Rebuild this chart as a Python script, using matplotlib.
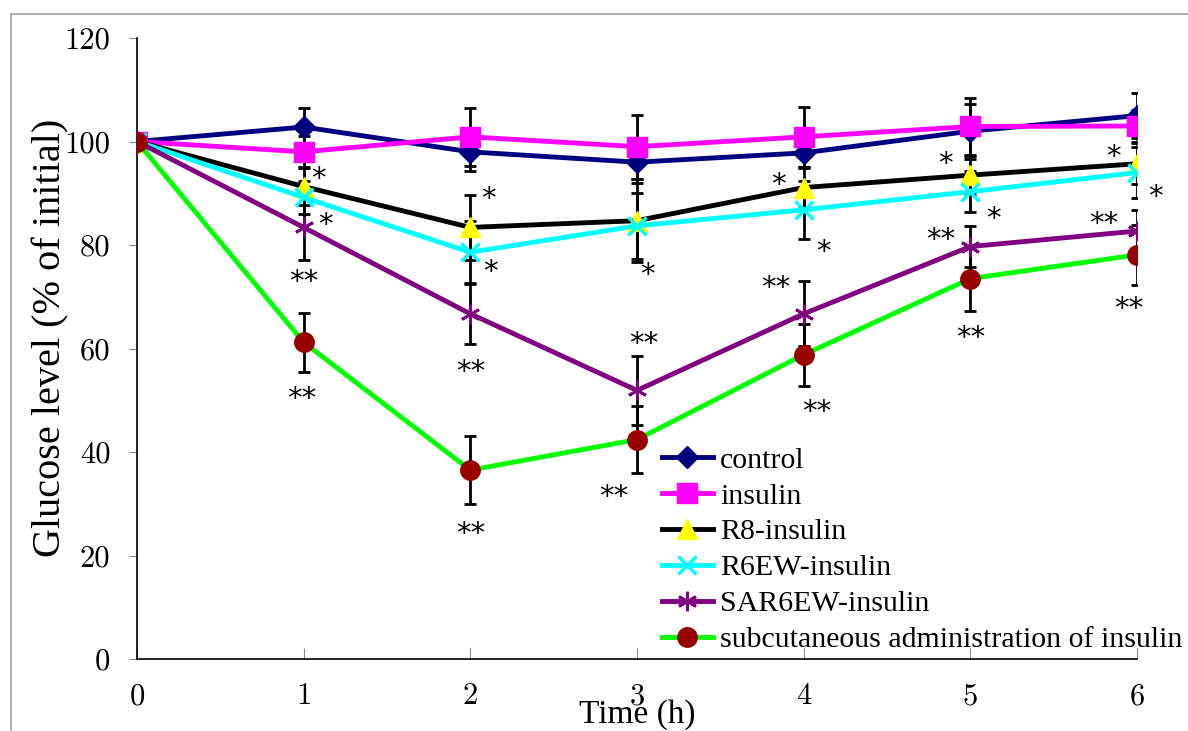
import numpy as np
import matplotlib.pyplot as plt
import matplotlib.patches as mpatches

plt.rcParams['font.family'] = ['Liberation Serif', 'DejaVu Serif']

# Data ------------------------------------------------------------------------
time_h = [0, 1, 2, 3, 4, 5, 6]

control = [100, 102.8, 98.0, 96.0, 97.8, 102.0, 105.0]
control_err = [0, 3.6, 3.7, 4.0, 3.0, 5.3, 4.4]

insulin = [100, 98.0, 100.9, 99.0, 100.9, 102.9, 103.0]
insulin_err = [0, 3.0, 5.6, 6.2, 5.8, 5.6, 3.0]

r8 = [100, 91.3, 83.4, 84.7, 91.1, 93.5, 95.7]
r8_err = [0, 3.6, 6.3, 8.0, 4.0, 3.7, 4.0]

r6ew = [100, 89.2, 78.6, 83.7, 86.8, 90.3, 94.0]
r6ew_err = [0, 3.2, 6.0, 6.4, 5.6, 4.0, 5.0]

sar6ew = [100, 83.4, 66.7, 51.9, 66.7, 79.7, 82.7]
sar6ew_err = [0, 6.3, 5.8, 6.7, 6.3, 4.0, 4.0]

subq = [100, 61.2, 36.5, 42.4, 58.8, 73.5, 78.1]
subq_err = [0, 5.7, 6.5, 6.5, 6.0, 6.2, 5.8]

series_names = ['control', 'insulin', 'R8-insulin', 'R6EW-insulin',
                'SAR6EW-insulin', 'subcutaneous administration of insulin']

# significance marks (x, y, text)
marks = [
    (1.09, 92.7, '*'), (1.13, 83.9, '*'), (1.00, 72.8, '**'), (0.99, 50.2, '**'),
    (2.11, 88.9, '*'), (2.12, 74.8, '*'), (2.00, 55.5, '**'), (2.00, 24.1, '**'),
    (3.06, 74.2, '*'), (3.04, 60.9, '**'), (2.86, 31.4, '**'),
    (3.85, 91.6, '*'), (4.12, 78.6, '*'), (3.83, 71.7, '**'), (4.08, 47.8, '**'),
    (4.85, 95.6, '*'), (5.14, 85.0, '*'), (4.82, 81.0, '**'), (5.00, 62.1, '**'),
    (5.86, 97.0, '*'), (6.11, 89.3, '*'), (5.80, 84.0, '**'), (5.95, 67.7, '**'),
]

# Plot ------------------------------------------------------------------------
fig = plt.figure(figsize=(11.88, 7.31), dpi=100)
ax = fig.add_axes([137 / 1188, 72 / 731, 1000 / 1188, 621 / 731])

styles = [
    (control, control_err, '#000080', dict(marker='D', ms=11, mfc='#000080', mec='#000080')),
    (insulin, insulin_err, '#FF00FF', dict(marker='s', ms=14, mfc='#FF00FF', mec='#FF00FF')),
    (r8, r8_err, '#000000', dict(marker='^', ms=14, mfc='#FFFF00', mec='#FFFF00')),
    (r6ew, r6ew_err, '#00FFFF', dict(marker='x', ms=13, mew=2.5, mec='#00FFFF')),
    (sar6ew, sar6ew_err, '#800080', dict(marker=(6, 2, 0), ms=14, mew=2, mec='#800080')),
    (subq, subq_err, '#00FF00', dict(marker='o', ms=14, mfc='#990000', mec='#990000')),
]

handles = []
for (vals, err, col, mk), name in zip(styles, series_names):
    ax.errorbar(time_h, vals, yerr=err, fmt='none', ecolor='black',
                elinewidth=2, capsize=4.5, capthick=2, zorder=2)
    h, = ax.plot(time_h, vals, color=col, lw=3.5, label=name, zorder=3, **mk)
    handles.append(h)

for x, y, s in marks:
    ax.text(x, y, s, ha='center', va='center', fontsize=21,
            family='DejaVu Sans', zorder=4)

ax.set_xlim(0, 6)
ax.set_ylim(0, 120)
ax.set_xticks(time_h)
ax.set_yticks(np.arange(0, 121, 20))
for side in ['top', 'right']:
    ax.spines[side].set_visible(False)
ax.spines['left'].set_linewidth(1.2)
ax.spines['bottom'].set_linewidth(1.2)
ax.tick_params(axis='y', direction='out', length=6, color='#888888',
               labelsize=22, pad=13, labelfontfamily='cmr10')
ax.tick_params(axis='x', direction='in', length=8, color='#888888',
               labelsize=22, pad=17, labelfontfamily='cmr10')
ax.patch.set_visible(False)

ax.set_ylabel('Glucose level (% of initial)', fontsize=29)
ax.yaxis.set_label_coords(-0.068, 0.517)
ax.set_xlabel('Time (h)', fontsize=24)
ax.xaxis.set_label_coords(0.5, -0.065)

ax.legend(handles=handles, loc='lower left', frameon=False, fontsize=21.5,
          handlelength=1.7, handletextpad=0.25, labelspacing=0.3,
          borderaxespad=0, borderpad=0, bbox_to_anchor=(662 / 1188, 78 / 731),
          bbox_transform=fig.transFigure)

border = mpatches.Rectangle((11 / 1188, -0.1), 1.2, 1.1 - 14 / 731 + 0.0,
                            transform=fig.transFigure, fill=False,
                            edgecolor='#a0a0a0', lw=1.2, clip_on=False)
fig.patches.append(border)

fig.savefig('out.png', dpi=100)
